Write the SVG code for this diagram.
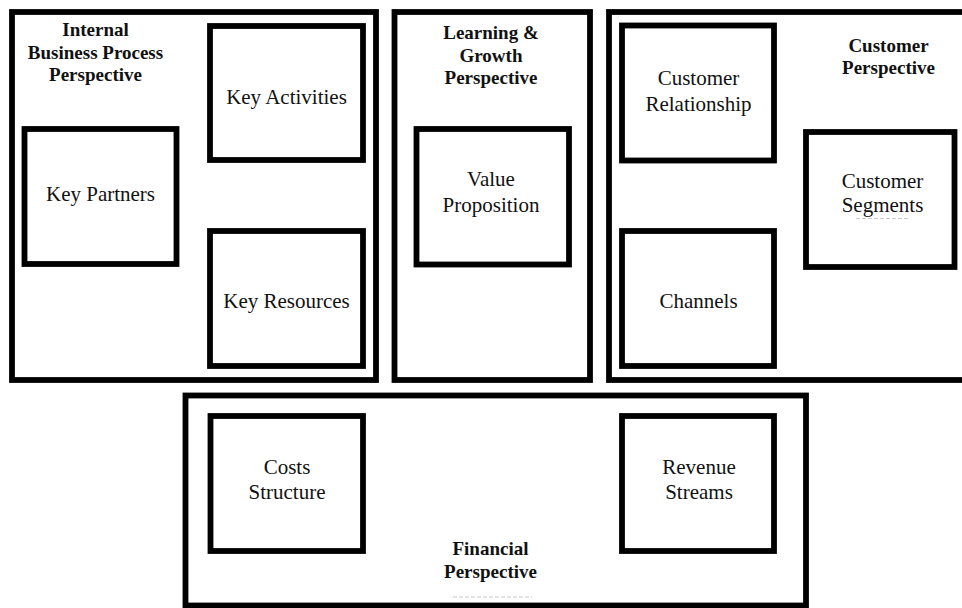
<svg xmlns="http://www.w3.org/2000/svg" width="962" height="608" viewBox="0 0 962 608">
<style>
.outer{fill:none;stroke:#000;stroke-width:5.8}
.box{fill:none;stroke:#000;stroke-width:5.8}
.lbl{font-family:"Liberation Serif","Times New Roman",serif;font-size:21px;fill:#111;text-anchor:middle}
.ttl{font-family:"Liberation Serif","Times New Roman",serif;font-size:19px;font-weight:bold;fill:#111;text-anchor:middle}
.faint{stroke:#c8c8c8;stroke-width:1.2;stroke-dasharray:4 2}
</style>
<rect width="962" height="608" fill="#fff"/>
<g id="internal-perspective">
<rect class="outer" x="12" y="12" width="364" height="368"/>
<text class="ttl" x="95.5" y="36">Internal</text>
<text class="ttl" x="95.5" y="58.5">Business Process</text>
<text class="ttl" x="95.5" y="81">Perspective</text>
</g>
<g id="key-activities">
<rect class="box" x="210" y="26" width="153" height="134"/>
<text class="lbl" x="286.5" y="104">Key Activities</text>
</g>
<g id="key-partners">
<rect class="box" x="24.5" y="129" width="152" height="135"/>
<text class="lbl" x="100.5" y="200.5">Key Partners</text>
</g>
<g id="key-resources">
<rect class="box" x="210" y="231" width="153" height="135"/>
<text class="lbl" x="286.5" y="308">Key Resources</text>
</g>
<g id="learning-perspective">
<rect class="outer" x="394.5" y="12" width="195.5" height="368"/>
<text class="ttl" x="491" y="39">Learning &amp;</text>
<text class="ttl" x="491" y="61.5">Growth</text>
<text class="ttl" x="491" y="84">Perspective</text>
</g>
<g id="value-proposition">
<rect class="box" x="416.5" y="129" width="152.5" height="135.5"/>
<text class="lbl" x="491" y="186">Value</text>
<text class="lbl" x="491" y="212">Proposition</text>
</g>
<g id="customer-perspective">
<rect class="outer" x="609" y="12" width="360" height="368"/>
<text class="ttl" x="888.5" y="51.5">Customer</text>
<text class="ttl" x="888.5" y="74">Perspective</text>
</g>
<g id="customer-relationship">
<rect class="box" x="622" y="25.5" width="152" height="135"/>
<text class="lbl" x="698.5" y="85">Customer</text>
<text class="lbl" x="698.5" y="110.5">Relationship</text>
</g>
<g id="channels">
<rect class="box" x="622" y="231" width="152" height="135"/>
<text class="lbl" x="698.5" y="307.5">Channels</text>
</g>
<g id="customer-segments">
<rect class="box" x="806" y="132" width="148.5" height="135"/>
<text class="lbl" x="882.5" y="187.5">Customer</text>
<text class="lbl" x="882.5" y="211.5">Segments</text>
<line class="faint" x1="856" y1="218.5" x2="910" y2="218.5"/>
</g>
<g id="financial-perspective">
<rect class="outer" x="185.5" y="395.5" width="620.5" height="210"/>
<text class="ttl" x="490.5" y="555">Financial</text>
<text class="ttl" x="490.5" y="578">Perspective</text>
<line class="faint" x1="453" y1="597" x2="532" y2="597"/>
</g>
<g id="costs-structure">
<rect class="box" x="210.5" y="416" width="152.5" height="135"/>
<text class="lbl" x="287" y="473.5">Costs</text>
<text class="lbl" x="287" y="499">Structure</text>
</g>
<g id="revenue-streams">
<rect class="box" x="622" y="416" width="152" height="135"/>
<text class="lbl" x="699" y="473.5">Revenue</text>
<text class="lbl" x="699" y="499">Streams</text>
</g>
<g id="connectors"></g>
</svg>
